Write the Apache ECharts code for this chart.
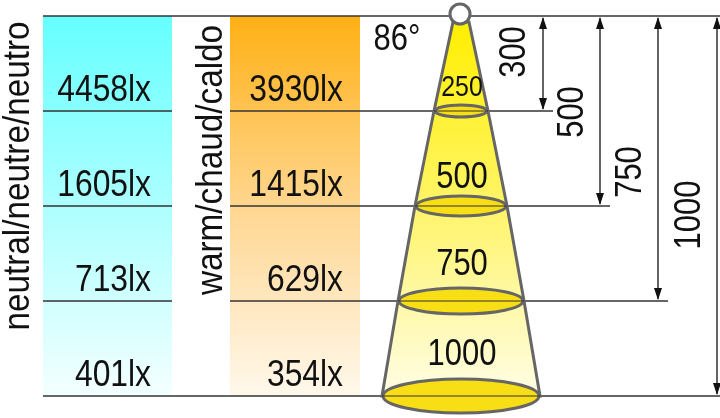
<!DOCTYPE html>
<html><head><meta charset="utf-8">
<script src="https://cdn.jsdelivr.net/npm/echarts@6/dist/echarts.min.js"></script>
<style>html,body{margin:0;padding:0;background:#fff}#c{width:720px;height:418px}</style>
</head><body><div id="c"></div>
<script>
// distances (mm) of each measuring plane
const distances = [250, 500, 750, 1000];
const neutralLux = ['4458lx', '1605lx', '713lx', '401lx'];
const warmLux = ['3930lx', '1415lx', '629lx', '354lx'];
const ringLabels = ['250', '500', '750', '1000'];
const dimLabels = ['300', '500', '750', '1000'];
const beamAngle = '86°';
const neutralTitle = 'neutral/neutre/neutro';
const warmTitle = 'warm/chaud/caldo';
// cone half-widths (drawing units) at each plane
const coneHalf = [27, 46, 63, 79];

const FONT = '"Liberation Sans", Arial, sans-serif';
const chart = echarts.init(document.getElementById('c'));
const cx = 461;
const dimX = [543, 600, 658, 717];
const dimLabelX = [515, 573, 631, 690];
const dimLabelY = [52, 112, 172, 215];

function txt(x, y, s, size, opts, rot, sx) {
  return {type: 'text', x, y, rotation: rot || 0, scaleX: sx || 0.86, scaleY: 1,
    style: Object.assign({text: s, font: size + 'px ' + FONT, fill: '#111', align: 'center', verticalAlign: 'middle'}, opts || {})};
}

function renderAll(params, api) {
  const P = (x, d) => api.coord([x, d]);
  const ch = [];
  const y0 = P(0, 0)[1];
  const yb = P(0, 1000)[1];
  ch.push({type: 'rect', shape: {x: 43, y: y0, width: 129, height: yb - y0},
    style: {fill: new echarts.graphic.LinearGradient(0, 0, 0, 1, [{offset: 0, color: '#66ffff'}, {offset: 0.5, color: '#adffff'}, {offset: 1, color: '#f4ffff'}])}});
  ch.push({type: 'rect', shape: {x: 230, y: y0, width: 130, height: yb - y0},
    style: {fill: new echarts.graphic.LinearGradient(0, 0, 0, 1, [{offset: 0, color: '#ffb014'}, {offset: 0.5, color: '#ffd690'}, {offset: 1, color: '#fff8ec'}])}});
  ch.push({type: 'line', shape: {x1: 43, y1: y0, x2: 720, y2: y0}, style: {stroke: '#333', lineWidth: 1.5}});
  distances.forEach((d, i) => {
    const y = P(0, d)[1];
    const last = i === distances.length - 1;
    ch.push({type: 'line', shape: {x1: 43, y1: y, x2: last ? 720 : 172, y2: y}, style: {stroke: '#333', lineWidth: 1.5}});
    if (!last) ch.push({type: 'line', shape: {x1: 230, y1: y, x2: dimX[i] + 10, y2: y}, style: {stroke: '#333', lineWidth: 1.5}});
    const ty = y - 20;
    ch.push(txt(151, ty, neutralLux[i], 37, {align: 'right'}));
    ch.push(txt(343, ty, warmLux[i], 37, {align: 'right'}));
  });
  const pts = [[cx - 8, y0 + 6], [cx + 8, y0 + 6]];
  distances.forEach((d, i) => { const y = P(0, d)[1]; pts.push([cx + coneHalf[i], y]); });
  for (let i = distances.length - 1; i >= 0; i--) { const y = P(0, distances[i])[1]; pts.push([cx - coneHalf[i], y]); }
  ch.push({type: 'polygon', shape: {points: pts},
    style: {fill: new echarts.graphic.LinearGradient(0, 0, 0, 1, [{offset: 0, color: '#ffef00'}, {offset: 0.5, color: '#fff46a'}, {offset: 1, color: '#fffde6'}]), stroke: '#666', lineWidth: 3}});
  const ry = [6, 10, 13, 17];
  const ringTy = [88, 178, 265, 355];
  distances.forEach((d, i) => {
    const y = P(0, d)[1];
    ch.push({type: 'ellipse', shape: {cx: cx, cy: y, rx: coneHalf[i] - 1, ry: ry[i]}, style: {fill: '#f8de14', stroke: '#666', lineWidth: 3}});
    ch.push({type: 'line', shape: {x1: cx - coneHalf[i], y1: y, x2: cx + coneHalf[i], y2: y}, style: {stroke: '#333', lineWidth: 1.2}});
    ch.push(txt(cx + 1, ringTy[i], ringLabels[i], i === 0 ? 29 : 36));
  });
  ch.push({type: 'circle', shape: {cx: cx - 1, cy: 14, r: 10}, style: {fill: '#fff', stroke: '#666', lineWidth: 3}});
  ch.push(txt(397, 40, beamAngle, 36));
  ch.push(txt(19, 176, neutralTitle, 37, {}, Math.PI / 2, 0.9));
  ch.push(txt(212, 160, warmTitle, 37, {}, Math.PI / 2, 0.9));
  distances.forEach((d, i) => {
    const x = dimX[i];
    const yB = P(0, d)[1];
    ch.push({type: 'line', shape: {x1: x, y1: y0 + 2, x2: x, y2: yB - 2}, style: {stroke: '#111', lineWidth: 1.3}});
    ch.push({type: 'polygon', shape: {points: [[x, y0 + 1], [x - 4, y0 + 13], [x + 4, y0 + 13]]}, style: {fill: '#111'}});
    ch.push({type: 'polygon', shape: {points: [[x, yB - 1], [x - 4, yB - 13], [x + 4, yB - 13]]}, style: {fill: '#111'}});
    ch.push(txt(dimLabelX[i], dimLabelY[i], dimLabels[i], 36, {}, Math.PI / 2));
  });
  return {type: 'group', children: ch};
}

chart.setOption({
  animation: false,
  grid: {left: 0, right: 0, top: 16, bottom: 22},
  xAxis: {type: 'value', min: 0, max: 720, show: false},
  yAxis: {type: 'value', min: 0, max: 1000, inverse: true, show: false},
  series: [{type: 'custom', renderItem: renderAll, data: [[0, 0]], clip: false}]
});
</script></body></html>
